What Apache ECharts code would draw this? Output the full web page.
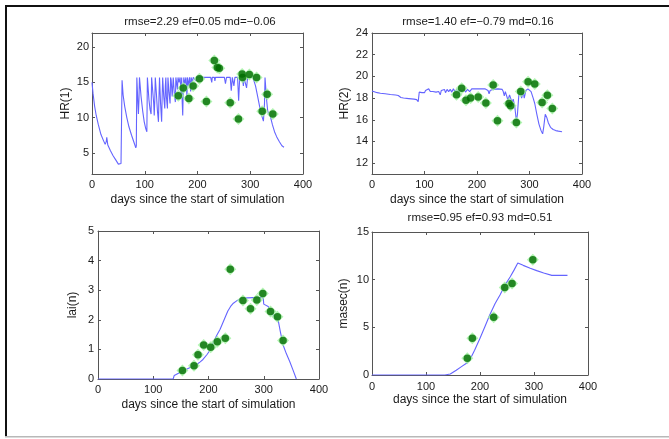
<!DOCTYPE html>
<html><head><meta charset="utf-8">
<script src="https://cdn.jsdelivr.net/npm/echarts@6/dist/echarts.min.js"></script>
<style>html,body{margin:0;padding:0;background:#fff}#c{width:669px;height:439px}</style>
</head><body><div id="c"></div>
<script>
// ---------- data ----------
const xTicks = [0, 100, 200, 300, 400];
const xName = 'days since the start of simulation';
const titles = ['rmse=2.29 ef=0.05 md=\u22120.06', 'rmse=1.40 ef=\u22120.79 md=0.16', '', 'rmse=0.95 ef=0.93 md=0.51'];
const yNames = ['HR(1)', 'HR(2)', 'lai(n)', 'masec(n)'];
const hr1Ticks = [5, 10, 15, 20];
const hr2Ticks = [12, 14, 16, 18, 20, 22, 24];
const laiTicks = [0, 1, 2, 3, 4, 5];
const masecTicks = [0, 5, 10, 15];

const hr1Sim = [[0,15.0],[2,13.4],[5,11.6],[8,10.3],[12,9.0],[17,7.6],[22,6.7],[25,6.2],[27,6.6],[28,7.2],[30,6.1],[35,5.3],[40,4.6],[45,4.0],[50,3.4],[53,3.2],[55,3.5],[57,15.3],[59,13.2],[62,11.6],[66,10.0],[70,8.7],[75,7.5],[80,6.4],[83,5.7],[84,6.0],[85,15.7],[87,12.0],[88,10.5],[89,12.5],[90,15.7],[91,15.7],[93,13.0],[96,11.0],[99,9.4],[102,8.4],[104,8.0],[105,15.7],[106,15.7],[108,12.5],[110,11.2],[112,10.5],[113,15.7],[115,15.7],[117,12.0],[118,10.3],[119,12.5],[120,15.7],[122,13.5],[124,11.0],[126,9.4],[127,13.0],[128,15.7],[130,12.0],[132,9.4],[133,13.0],[134,15.7],[136,13.0],[138,11.3],[139,14.5],[140,15.7],[141,13.0],[143,11.3],[144,15.7],[146,13.5],[148,12.0],[149,15.7],[150,15.4],[152,13.0],[154,15.7],[156,13.5],[158,12.2],[159,15.7],[160,15.5],[162,14.0],[163,15.7],[165,15.0],[167,15.7],[169,13.2],[170,15.7],[171,12.2],[172,10.3],[173,14.0],[174,15.7],[176,14.8],[178,15.7],[180,13.0],[181,15.7],[183,14.5],[185,15.7],[187,13.7],[188,15.7],[190,15.0],[192,15.7],[195,15.7],[197,15.2],[198,15.7],[205,15.7],[215,15.7],[225,15.7],[227,15.0],[228,15.7],[232,15.7],[233,15.2],[234,15.7],[245,15.7],[251,15.7],[253,14.8],[255,15.7],[262,15.7],[264,13.8],[266,15.7],[267,15.7],[269,14.5],[271,15.7],[276,15.7],[278,12.4],[280,15.7],[285,15.7],[287,14.5],[288,15.7],[291,15.7],[293,14.2],[295,15.7],[305,15.7],[308,15.5],[310,14.5],[314,13.0],[318,11.5],[322,10.2],[325,9.5],[327,12.0],[328,15.7],[329,15.6],[331,12.5],[333,11.0],[335,10.5],[338,10.2],[342,9.0],[346,8.0],[350,7.3],[355,6.6],[360,6.0],[364,5.8]];
const hr1Obs = [[163.6,13.1],[173,14.2],[183.6,12.7],[191.7,14.5],[203.7,15.5],[216.9,12.3],[231.9,18.1],[237.6,17.1],[241.3,17.0],[262,12.1],[277.6,9.8],[284.6,16.2],[285.5,15.7],[298.3,16.1],[312,15.7],[322.7,10.9],[332,13.3],[342.8,10.5]];

const hr2Sim = [[0,18.65],[10,18.5],[16,18.45],[25,18.4],[35,18.33],[45,18.28],[50,18.24],[55,18.05],[60,18.0],[70,17.95],[80,17.9],[85,17.86],[88,17.67],[89,17.7],[90,18.55],[95,18.5],[98,18.55],[100,18.5],[102,18.7],[105,18.65],[108,18.85],[111,18.6],[113,18.45],[116,18.6],[119,18.75],[122,18.55],[124,18.7],[127,18.6],[130,18.3],[132,18.7],[135,18.6],[138,18.8],[140,18.5],[143,18.8],[146,18.6],[149,18.8],[152,18.55],[155,18.85],[158,18.6],[162,18.8],[165,18.5],[168,18.8],[172,18.6],[175,18.85],[178,18.55],[182,18.8],[186,18.6],[190,18.85],[195,18.86],[205,18.85],[215,18.85],[221,18.7],[223,18.4],[225,18.7],[230,18.8],[240,18.85],[248,18.8],[250,18.6],[252,18.2],[254,18.6],[256,18.5],[259,17.8],[262,18.3],[264,18.0],[267,17.6],[269,17.9],[272,17.2],[275,15.9],[277,16.5],[280,18.5],[283,18.7],[285,18.0],[288,18.6],[290,18.0],[293,18.7],[297,18.85],[300,18.85],[303,18.6],[307,18.0],[310,17.5],[314,16.5],[318,15.6],[322,15.0],[325,14.7],[327,15.3],[330,16.5],[333,16.2],[336,15.7],[340,15.3],[345,15.1],[350,15.0],[355,14.95],[362,14.9]];
const hr2Obs = [[161,18.3],[170.8,18.9],[179,17.8],[187.8,18.0],[202.3,18.1],[216.9,17.55],[230.8,19.2],[239,15.9],[261,17.5],[264,17.3],[275,15.75],[283.3,18.6],[297.3,19.5],[310,19.3],[324,17.6],[334,18.25],[343.5,17.05]];

const laiSim = [[0,0],[136,0],[138,0.12],[140,0.15],[150,0.24],[160,0.33],[170,0.41],[178,0.48],[185,0.58],[190,0.66],[197,0.82],[203,0.98],[209,1.25],[215,1.48],[221,1.68],[226,1.9],[230,2.08],[235,2.3],[240,2.45],[245,2.56],[251,2.64],[258,2.7],[263,2.73],[270,2.74],[281,2.75],[290,2.75],[299,2.75],[300,2.53],[308,2.45],[313,2.3],[317,2.16],[321,2.08],[326,2.0],[330,1.6],[335,1.15],[341,0.85],[347,0.59],[353,0.3],[359,0]];
const laiObs = [[152.8,0.29],[173.8,0.45],[181,0.82],[191.3,1.15],[204,1.07],[216,1.26],[230.4,1.38],[239.4,3.71],[262.3,2.65],[276,2.37],[287.5,2.67],[298.3,2.89],[312.2,2.28],[324.8,2.10],[335,1.30]];

const masecSim = [[0,0],[135,0],[145,0.1],[156,0.5],[165,0.85],[175,1.23],[181,1.58],[190,2.6],[200,3.86],[210,5.2],[218,6.3],[228,7.5],[237,8.4],[246,9.4],[256,10.3],[263,11.0],[270,11.74],[280,11.5],[293,11.2],[305,10.95],[318,10.7],[333,10.45],[345,10.45],[362,10.45]];
const masecObs = [[176.5,1.75],[185.8,3.86],[225.4,6.06],[245.8,9.18],[259.4,9.6],[297.8,12.09]];

// ---------- layout ----------
const FONT = "'Liberation Sans', Arial, Helvetica, sans-serif";
const TXT = '#1a1a1a';
const AX = '#555555';
const panels = [
  {grid:{left:92, top:33, width:211, height:141}, min:2, max:22, ticks:hr1Ticks, sim:hr1Sim, obs:hr1Obs, yMargin:3, yGap:20, xMargin:5, xGap:20, tx:200, ty:22},
  {grid:{left:372, top:33, width:210, height:141}, min:11, max:24, ticks:hr2Ticks, sim:hr2Sim, obs:hr2Obs, yMargin:4, yGap:21, xMargin:5, xGap:20, tx:478, ty:22},
  {grid:{left:98, top:231, width:221, height:148}, min:0, max:5, ticks:laiTicks, sim:laiSim, obs:laiObs, yMargin:4, yGap:19, xMargin:5, xGap:20, tx:208, ty:220},
  {grid:{left:372, top:232, width:216, height:143}, min:0, max:15, ticks:masecTicks, sim:masecSim, obs:masecObs, yMargin:3, yGap:22, xMargin:6, xGap:19, tx:480, ty:218}
];

const grid = [], xAxis = [], yAxis = [], series = [], graphic = [];
const labelStyle = {color: TXT, fontSize: 11, fontFamily: FONT};
panels.forEach((p, i) => {
  grid.push(Object.assign({containLabel:false}, p.grid));
  const xBase = {gridIndex:i, type:'value', min:0, max:400, interval:100,
    splitLine:{show:false}, axisLine:{show:true, onZero:false, lineStyle:{color:AX, width:1}},
    axisTick:{show:true, inside:true, length:3, lineStyle:{color:AX}}};
  xAxis.push(Object.assign({}, xBase, {position:'bottom',
    axisLabel:{show:true, margin:p.xMargin, customValues:xTicks, ...labelStyle},
    name:xName, nameLocation:'middle', nameGap:p.xGap,
    nameTextStyle:{color:TXT, fontSize:12, fontFamily:FONT}}));
  const yBase = {gridIndex:i, type:'value', min:p.min, max:p.max,
    splitLine:{show:false}, axisLine:{show:true, onZero:false, lineStyle:{color:AX, width:1}},
    axisTick:{show:true, inside:true, length:3, customValues:p.ticks, lineStyle:{color:AX}}};
  yAxis.push(Object.assign({}, yBase, {position:'left',
    axisLabel:{show:true, margin:p.yMargin, customValues:p.ticks, ...labelStyle},
    name:yNames[i], nameLocation:'middle', nameGap:p.yGap, nameRotate:90,
    nameTextStyle:{color:TXT, fontSize:12, fontFamily:FONT}}));
  if (titles[i]) {
    graphic.push({type:'text', x:p.tx, y:p.ty, silent:true,
      style:{text:titles[i], fill:TXT, font:'11.5px ' + FONT, textAlign:'center', textVerticalAlign:'middle', align:'center', verticalAlign:'middle'}});
  }
});
// top and right box axes
panels.forEach((p, i) => {
  xAxis.push({gridIndex:i, type:'value', min:0, max:400, interval:100, position:'top',
    splitLine:{show:false}, axisLabel:{show:false},
    axisLine:{show:true, onZero:false, lineStyle:{color:AX, width:1}},
    axisTick:{show:true, inside:true, length:3, lineStyle:{color:AX}}});
  yAxis.push({gridIndex:i, type:'value', min:p.min, max:p.max, position:'right',
    splitLine:{show:false}, axisLabel:{show:false},
    axisLine:{show:true, onZero:false, lineStyle:{color:AX, width:1}},
    axisTick:{show:true, inside:true, length:3, customValues:p.ticks, lineStyle:{color:AX}}});
});
panels.forEach((p, i) => {
  series.push({type:'line', xAxisIndex:i, yAxisIndex:i, data:p.sim, showSymbol:false, silent:true,
    lineStyle:{color:'#6464ff', width:1.1}, z:2});
  series.push({type:'scatter', xAxisIndex:i, yAxisIndex:i, data:p.obs, symbol:'diamond', symbolSize:12,
    itemStyle:{color:'#9ef09e'}, silent:true, z:3});
  series.push({type:'scatter', xAxisIndex:i, yAxisIndex:i, data:p.obs, symbol:'circle', symbolSize:7.5,
    itemStyle:{color:'#006c00'}, silent:true, z:4});
});
// page frame
graphic.push({type:'rect', shape:{x:5, y:5, width:664, height:2}, style:{fill:'#111'}, silent:true});
graphic.push({type:'rect', shape:{x:5, y:5, width:2, height:432}, style:{fill:'#111'}, silent:true});
graphic.push({type:'rect', shape:{x:5, y:436, width:664, height:1.5}, style:{fill:'#b8b8b8'}, silent:true});

const chart = echarts.init(document.getElementById('c'));
chart.setOption({animation:false, backgroundColor:'#fff', grid, xAxis, yAxis, series, graphic});
</script>
</body></html>
